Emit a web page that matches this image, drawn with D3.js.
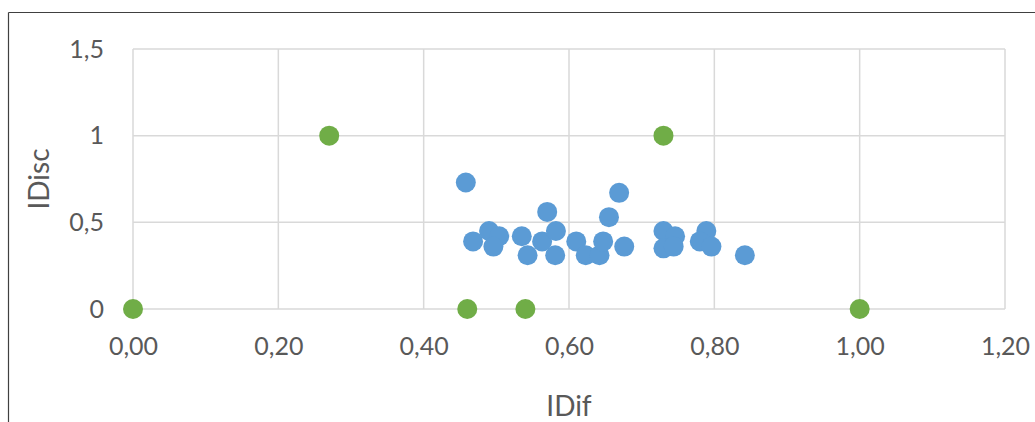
<!DOCTYPE html>
<html>
<head>
<meta charset="utf-8">
<script src="https://cdn.jsdelivr.net/npm/d3@7"></script>
<style>
  body { margin: 0; background: #fff; }
  svg { display: block; }
</style>
</head>
<body>
<div id="chart"></div>
<script>
// blue series: items (IDif, IDisc)
const itemDif = [0.458, 0.468, 0.490, 0.504, 0.496, 0.535, 0.543, 0.570, 0.563, 0.582, 0.581, 0.610, 0.623,
  0.642, 0.647, 0.655, 0.669, 0.676, 0.730, 0.746, 0.730, 0.744, 0.789, 0.780, 0.796, 0.842];
const itemDisc = [0.73, 0.39, 0.45, 0.42, 0.36, 0.42, 0.31, 0.56, 0.39, 0.45, 0.31, 0.39, 0.31,
  0.31, 0.39, 0.53, 0.67, 0.36, 0.45, 0.42, 0.35, 0.36, 0.45, 0.39, 0.36, 0.31];
// green series: reference points
const refDif = [0.00, 0.27, 0.46, 0.54, 0.73, 1.00];
const refDisc = [0, 1, 0, 0, 1, 0];

const xTicks = [0, 0.2, 0.4, 0.6, 0.8, 1.0, 1.2];
const yTicks = [0, 0.5, 1, 1.5];

const width = 1035, height = 422;
const margin = { top: 49, right: 30, bottom: 113, left: 133 };

const svg = d3.select("#chart").append("svg")
  .attr("width", width)
  .attr("height", height);

const x = d3.scaleLinear().domain([0, 1.2]).range([margin.left, width - margin.right]);
const y = d3.scaleLinear().domain([0, 1.5]).range([height - margin.bottom, margin.top]);

const fmtX = d => d.toFixed(2).replace(".", ",");
const fmtY = d => String(d).replace(".", ",");

// outer frame
svg.append("line").attr("x1", 8.5).attr("x2", 8.5).attr("y1", 12.5).attr("y2", height)
  .attr("stroke", "#404040").attr("stroke-width", 1.2);
svg.append("line").attr("x1", 8.5).attr("x2", width).attr("y1", 12.5).attr("y2", 12.5)
  .attr("stroke", "#404040").attr("stroke-width", 1.2);

// grid
svg.append("g").selectAll("line").data(xTicks).join("line")
  .attr("x1", d => x(d)).attr("x2", d => x(d))
  .attr("y1", y(1.5)).attr("y2", y(0))
  .attr("stroke", "#d9d9d9").attr("stroke-width", 1.5);
svg.append("g").selectAll("line").data(yTicks).join("line")
  .attr("x1", x(0)).attr("x2", x(1.2))
  .attr("y1", d => y(d)).attr("y2", d => y(d))
  .attr("stroke", "#d9d9d9").attr("stroke-width", 1.5);

// axes (labels only)
const xAxis = svg.append("g")
  .attr("transform", `translate(0,${y(0)})`)
  .call(d3.axisBottom(x).tickValues(xTicks).tickFormat(fmtX).tickSize(0).tickPadding(28));
const yAxis = svg.append("g")
  .attr("transform", `translate(${x(0)},0)`)
  .call(d3.axisLeft(y).tickValues(yTicks).tickFormat(fmtY).tickSize(0).tickPadding(29));
[xAxis, yAxis].forEach(g => {
  g.select(".domain").remove();
  g.selectAll("text")
    .attr("fill", "#595959")
    .style("font-family", "Lato, 'Open Sans', sans-serif")
    .style("font-size", "25px");
});

// points
svg.append("g").selectAll("circle").data(itemDif).join("circle")
  .attr("cx", d => x(d))
  .attr("cy", (d, i) => y(itemDisc[i]))
  .attr("r", 10)
  .attr("fill", "#5b9bd5");
svg.append("g").selectAll("circle").data(refDif).join("circle")
  .attr("cx", d => x(d))
  .attr("cy", (d, i) => y(refDisc[i]))
  .attr("r", 10)
  .attr("fill", "#70ad47");

// axis titles
svg.append("text")
  .attr("x", (x(0) + x(1.2)) / 2)
  .attr("y", 416)
  .attr("text-anchor", "middle")
  .attr("fill", "#595959")
  .style("font-family", "Lato, 'Open Sans', sans-serif")
  .style("font-size", "28px")
  .text("IDif");
svg.append("text")
  .attr("transform", `translate(49,${(y(0) + y(1.5)) / 2}) rotate(-90)`)
  .attr("text-anchor", "middle")
  .attr("fill", "#595959")
  .style("font-family", "Lato, 'Open Sans', sans-serif")
  .style("font-size", "28px")
  .text("IDisc");
</script>
</body>
</html>
